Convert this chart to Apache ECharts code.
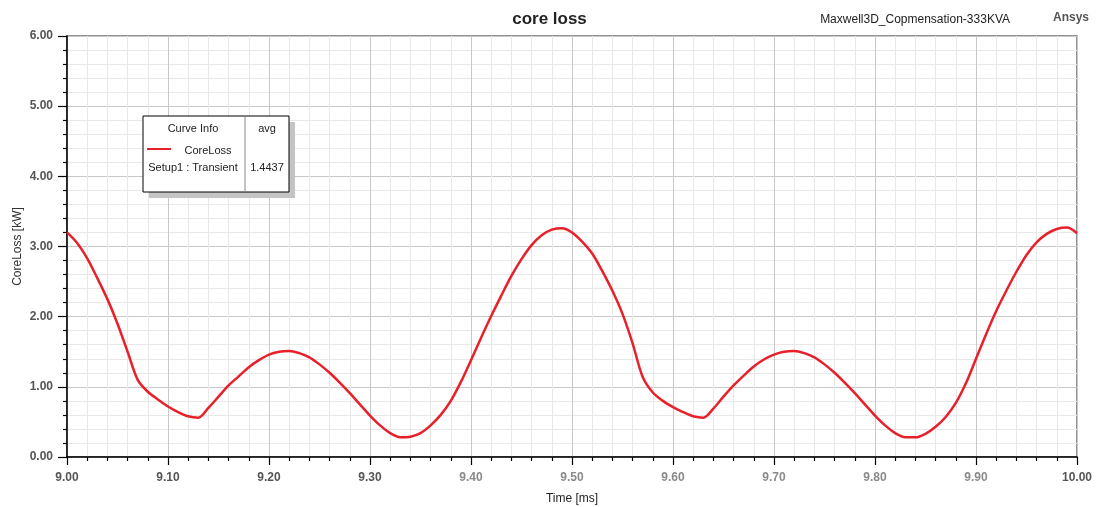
<!DOCTYPE html>
<html>
<head>
<meta charset="utf-8">
<title>core loss</title>
<script src="https://cdn.jsdelivr.net/npm/echarts@6/dist/echarts.min.js"></script>
<style>
    html, body {margin: 0; padding: 0; background: #fff;}
    #chart {width: 1099px; height: 507px;}
</style>
</head>
<body>
<div id="chart"></div>
<script>
'use strict';

// 时间 [ms]
const times = [
    9.00, 9.01, 9.02, 9.03, 9.04, 9.05, 9.06, 9.07, 9.08, 9.09,
    9.10, 9.11, 9.12, 9.13, 9.14, 9.15, 9.16, 9.17, 9.18, 9.19,
    9.20, 9.21, 9.22, 9.23, 9.24, 9.25, 9.26, 9.27, 9.28, 9.29,
    9.30, 9.31, 9.32, 9.33, 9.34, 9.35, 9.36, 9.37, 9.38, 9.39,
    9.40, 9.41, 9.42, 9.43, 9.44, 9.45, 9.46, 9.47, 9.48, 9.49,
    9.50, 9.51, 9.52, 9.53, 9.54, 9.55, 9.56, 9.57, 9.58, 9.59,
    9.60, 9.61, 9.62, 9.63, 9.64, 9.65, 9.66, 9.67, 9.68, 9.69,
    9.70, 9.71, 9.72, 9.73, 9.74, 9.75, 9.76, 9.77, 9.78, 9.79,
    9.80, 9.81, 9.82, 9.83, 9.84, 9.85, 9.86, 9.87, 9.88, 9.89,
    9.90, 9.91, 9.92, 9.93, 9.94, 9.95, 9.96, 9.97, 9.98, 9.99,
    10.00
];

// CoreLoss [kW]
const coreLoss = [
    3.20, 3.05, 2.83, 2.55, 2.25, 1.90, 1.50, 1.10, 0.93, 0.82,
    0.72, 0.64, 0.58, 0.56, 0.70, 0.86, 1.02, 1.15, 1.28, 1.38,
    1.46, 1.50, 1.51, 1.48, 1.42, 1.32, 1.20, 1.06, 0.91, 0.75,
    0.59, 0.45, 0.34, 0.28, 0.29, 0.34, 0.45, 0.60, 0.80, 1.07,
    1.38, 1.70, 2.01, 2.30, 2.58, 2.82, 3.02, 3.16, 3.24, 3.26,
    3.20, 3.07, 2.90, 2.65, 2.37, 2.04, 1.62, 1.14, 0.92, 0.80,
    0.71, 0.64, 0.58, 0.56, 0.69, 0.86, 1.02, 1.16, 1.29, 1.39,
    1.46, 1.50, 1.51, 1.48, 1.42, 1.32, 1.20, 1.06, 0.91, 0.75,
    0.59, 0.45, 0.34, 0.28, 0.28, 0.33, 0.43, 0.57, 0.77, 1.05,
    1.40, 1.75, 2.08, 2.37, 2.64, 2.88, 3.06, 3.18, 3.25, 3.27,
    3.19
];

// 图例信息
const curveName = 'CoreLoss';
const setupName = 'Setup1 : Transient';
const avgValue = '1.4437';

const font = 'Liberation Sans, Arial, sans-serif';

init();

function init() {
    let myChart = echarts.init(document.getElementById('chart'));
    let points = [];
    for (let i = 0; i < times.length; i++) {
        points.push([times[i], coreLoss[i]]);
    }
    myChart.setOption(buildOption(points));
}

function buildOption(points) {
    return {
        backgroundColor: '#fff',
        animation: false,
        textStyle: {fontFamily: font},
        title: [
            {
                text: 'core loss',
                left: 'center',
                top: 6,
                textStyle: {fontSize: 17, fontWeight: 'bold', color: '#222', fontFamily: font}
            },
            {
                text: 'Maxwell3D_Copmensation-333KVA',
                right: 84,
                top: 9,
                textStyle: {fontSize: 12, fontWeight: 'normal', color: '#222', fontFamily: font}
            },
            {
                text: 'Ansys',
                right: 5,
                top: 7,
                textStyle: {fontSize: 12, fontWeight: 'bold', color: '#555', fontFamily: font}
            }
        ],
        grid: {
            left: 67,
            right: 22,
            top: 36,
            bottom: 50,
            outerBoundsMode: 'none',
            show: true,
            borderColor: '#707070',
            borderWidth: 1.5,
            backgroundColor: '#fff'
        },
        xAxis: {
            type: 'value',
            min: 9,
            max: 10,
            interval: 0.1,
            name: 'Time [ms]',
            nameLocation: 'middle',
            nameGap: 36,
            nameMoveOverlap: false,
            nameTextStyle: {fontSize: 12, color: '#222'},
            axisLine: {show: true, onZero: false, lineStyle: {color: '#000', width: 1.5}},
            axisTick: {show: true, length: 8, lineStyle: {color: '#000', width: 1.2}},
            minorTick: {show: true, splitNumber: 5, length: 4, lineStyle: {color: '#000', width: 1.2}},
            splitLine: {show: true, lineStyle: {color: '#c8c8c8', width: 1}},
            minorSplitLine: {show: true, lineStyle: {color: '#e8e8e8', width: 1}},
            axisLabel: {
                fontSize: 12,
                fontWeight: 'bold',
                margin: 15,
                color: function (value) {
                    // 中间刻度在原图中颜色较浅
                    return (value > 9.35 && value < 9.95) ? '#8a8a8a' : '#555';
                },
                formatter: function (v) {
                    return v.toFixed(2);
                }
            }
        },
        yAxis: {
            type: 'value',
            min: 0,
            max: 6,
            interval: 1,
            name: 'CoreLoss [kW]',
            nameLocation: 'middle',
            nameGap: 43,
            nameMoveOverlap: false,
            nameTextStyle: {fontSize: 12, color: '#333'},
            axisLine: {show: true, onZero: false, lineStyle: {color: '#000', width: 1.5}},
            axisTick: {show: true, length: 9, lineStyle: {color: '#000', width: 1.2}},
            minorTick: {show: true, splitNumber: 5, length: 4, lineStyle: {color: '#000', width: 1.2}},
            splitLine: {show: true, lineStyle: {color: '#c8c8c8', width: 1}},
            minorSplitLine: {show: true, lineStyle: {color: '#e8e8e8', width: 1}},
            axisLabel: {
                fontSize: 12,
                fontWeight: 'bold',
                color: '#555',
                margin: 14,
                formatter: function (v) {
                    return v.toFixed(2);
                }
            }
        },
        series: [
            {
                name: curveName,
                type: 'line',
                data: points,
                smooth: 0.3,
                symbol: 'none',
                lineStyle: {color: '#e8202a', width: 2.5},
                z: 5
            }
        ],
        graphic: legendBox()
    };
}

// 曲线信息框
function legendBox() {
    let x = 143, y = 116, w = 146, h = 76, split = 245;
    let txt = {fontSize: 11, fill: '#222', fontFamily: font, textAlign: 'center', textVerticalAlign: 'middle'};
    return [
        {type: 'rect', shape: {x: x + 6, y: y + 6, width: w, height: h}, style: {fill: '#c4c4c4'}, z: 100},
        {type: 'rect', shape: {x: x, y: y, width: w, height: h}, style: {fill: '#fff', stroke: '#000', lineWidth: 1}, z: 101},
        {type: 'line', shape: {x1: split, y1: y, x2: split, y2: y + h}, style: {stroke: '#888', lineWidth: 1}, z: 102},
        {type: 'text', x: 193, y: 129, style: Object.assign({text: 'Curve Info'}, txt), z: 103},
        {type: 'text', x: 267, y: 129, style: Object.assign({text: 'avg'}, txt), z: 103},
        {type: 'line', shape: {x1: 147, y1: 149, x2: 171, y2: 149}, style: {stroke: '#e8202a', lineWidth: 2}, z: 103},
        {type: 'text', x: 208, y: 151, style: Object.assign({text: curveName}, txt), z: 103},
        {type: 'text', x: 193, y: 168, style: Object.assign({text: setupName}, txt), z: 103},
        {type: 'text', x: 267, y: 168, style: Object.assign({text: avgValue}, txt), z: 103}
    ];
}
</script>
</body>
</html>
